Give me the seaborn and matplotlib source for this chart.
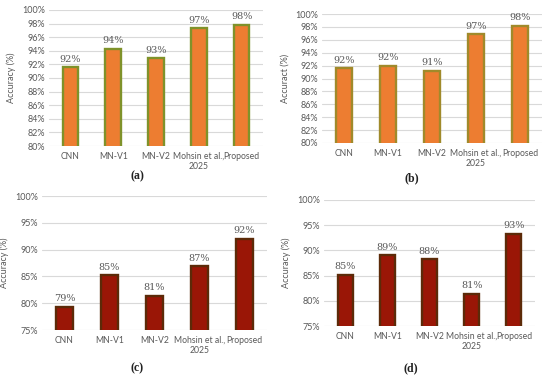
import numpy as np
import pandas as pd
import seaborn as sns
import matplotlib.pyplot as plt
from matplotlib.ticker import FuncFormatter

models = ["CNN", "MN-V1", "MN-V2", "Mohsin et al.,\n2025", "Proposed"]
acc_a = [91.6, 94.3, 92.9, 97.3, 97.8]
acc_b = [91.6, 92.0, 91.2, 96.9, 98.2]
acc_c = [79.3, 85.2, 81.4, 86.9, 92.0]
acc_d = [85.2, 89.0, 88.2, 81.4, 93.3]

sns.set_style("white")
plt.rcParams["font.family"] = ["Lato", "DejaVu Sans"]

W, H = 550, 375
fig = plt.figure(figsize=(5.5, 3.75), dpi=100)


def px_axes(x0, y0, x1, y1):
    # pixel box (left, top, right, bottom) -> figure fraction
    return fig.add_axes([x0 / W, 1 - y1 / H, (x1 - x0) / W, (y1 - y0) / H])


panels = [
    # values, box, ylim, step, ylabel, fill, edge, tag, tag pos
    (acc_a, (49, 10, 263, 146), (80, 100), 2, "Accuracy (%)", "#ED7D31", "#7F922A", "(a)", (137, 176)),
    (acc_b, (322, 14, 542, 143), (80, 100), 2, "Accuract (%)", "#ED7D31", "#A08A2A", "(b)", (412, 178)),
    (acc_c, (42, 196, 267, 330), (75, 100), 5, "Accuracy (%)", "#9A1606", "#5C2A08", "(c)", (137, 368)),
    (acc_d, (324, 200, 535, 326), (75, 100), 5, "Accuracy (%)", "#9A1606", "#5C2A08", "(d)", (411, 368)),
]

for vals, box, ylim, step, ylab, fill, edge, tag, tpos in panels:
    ax = px_axes(*box)
    df = pd.DataFrame({"model": models, "acc": vals})
    sns.barplot(data=df, x="model", y="acc", ax=ax, color=fill, width=0.36,
                edgecolor=edge, linewidth=1.7, saturation=1)
    ax.set_ylim(*ylim)
    ax.set_yticks(np.arange(ylim[0], ylim[1] + 0.1, step))
    ax.yaxis.set_major_formatter(FuncFormatter(lambda v, p: f"{v:.0f}%"))
    ax.grid(axis="y", color="#D9D9D9", linewidth=0.8)
    ax.set_axisbelow(True)
    for s in ax.spines.values():
        s.set_visible(False)
    ax.tick_params(axis="y", length=0, labelsize=6.5, colors="#595959", pad=3)
    ax.tick_params(axis="x", length=0, labelsize=6.2, colors="#595959", pad=4)
    ax.set_xlabel("")
    ax.set_ylabel(ylab, fontsize=6.5, color="#595959", labelpad=4)
    ax.bar_label(ax.containers[0], fmt="%.0f%%", padding=2.5, fontsize=7,
                 color="#595959", family="DejaVu Serif")
    fig.text(tpos[0] / W, 1 - tpos[1] / H, tag, ha="center", va="center",
             fontsize=8.5, fontweight="bold", family="Liberation Serif", color="#222222")

fig.savefig("out.png", dpi=100)
